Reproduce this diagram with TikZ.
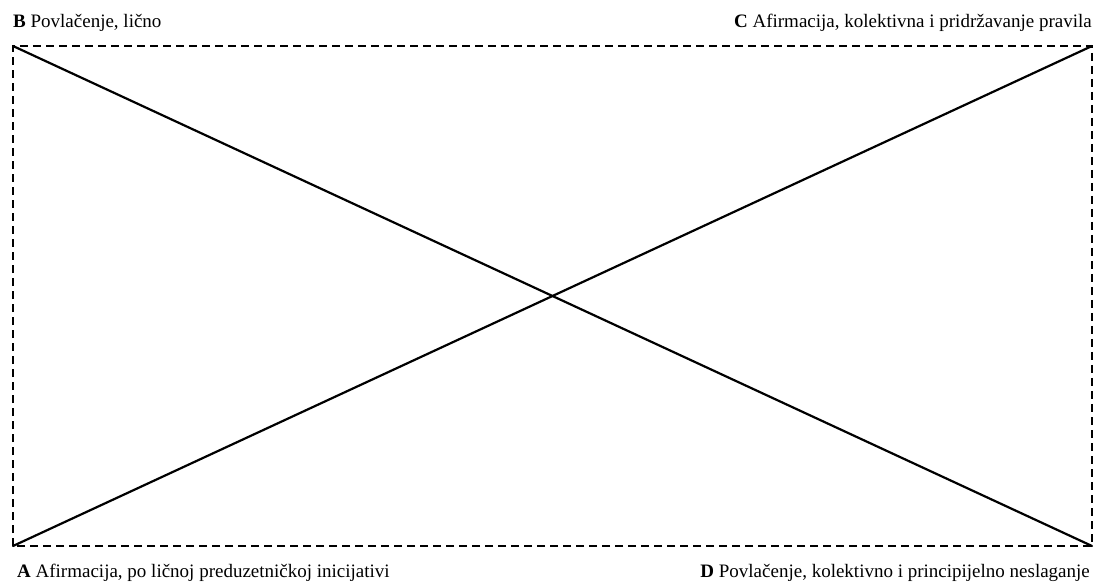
\documentclass[tikz,border=0pt]{standalone}
\usepackage{fontspec}
\setmainfont{Liberation Serif}
\begin{document}
\begin{tikzpicture}[x=1pt,y=1pt,
  frame/.style={line width=2pt,dash pattern=on 8pt off 5pt},
  diag/.style={line width=2.2pt,line cap=round},
  lbl/.style={inner sep=0pt,font=\fontsize{19}{22}\selectfont}]
\useasboundingbox (0,0) rectangle (1098,582);
\coordinate (A) at (13,36);
\coordinate (B) at (13,536);
\coordinate (C) at (1092,536);
\coordinate (D) at (1092,36);
\draw[frame] (A) rectangle (C);
\draw[diag] (B) -- (D);
\draw[diag] (A) -- (C);
\node[lbl,anchor=base west] (lb) at (13,554) {\textbf{B} Povlačenje, lično};
\node[lbl,anchor=base east] (lc) at (1092,554) {\textbf{C} Afirmacija, kolektivna i pridržavanje pravila};
\node[lbl,anchor=base west] (la) at (17,5) {\textbf{A} Afirmacija, po ličnoj preduzetničkoj inicijativi};
\node[lbl,anchor=base east] (ld) at (1090,5) {\textbf{D} Povlačenje, kolektivno i principijelno neslaganje};
\end{tikzpicture}
\end{document}
